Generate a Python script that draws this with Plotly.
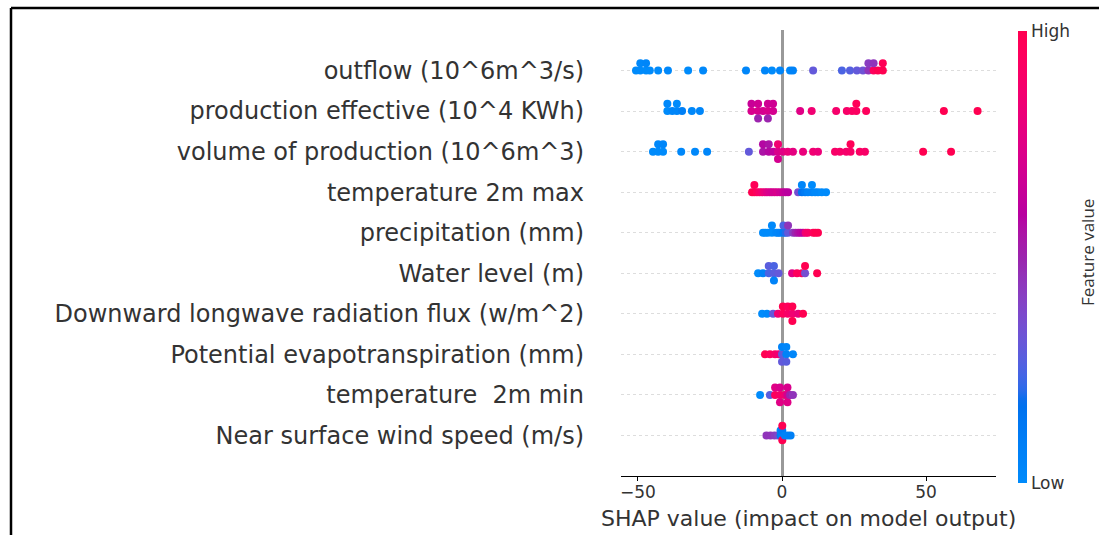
import numpy as np
import plotly.graph_objects as go

# ---- feature names, top to bottom ----
features = [
    "outflow (10^6m^3/s)",
    "production effective (10^4 KWh)",
    "volume of production (10^6m^3)",
    "temperature 2m max",
    "precipitation (mm)",
    "Water level (m)",
    "Downward longwave radiation flux (w/m^2)",
    "Potential evapotranspiration (mm)",
    "temperature\u00a0 2m min",
    "Near surface wind speed (m/s)",
]

# ---- SHAP values and normalised feature values (0 = low, 1 = high) ----
outflow_shap = [-50.7, -49.2, -49.2, -47.2, -47.2, -45.9, -43.0, -39.6, -32.6, -27.4,
                -12.5, -5.9, -3.5, -0.7, 2.8, 3.8, 10.8, 20.8, 23.6, 26.0, 28.1,
                30.0, 30.0, 31.8, 31.8, 33.3, 35.0, 35.0]
outflow_feat = [0.0, 0.0, 0.02, 0.0, 0.03, 0.0, 0.0, 0.02, 0.0, 0.02,
                0.03, 0.03, 0.0, 0.04, 0.02, 0.05, 0.3, 0.25, 0.27, 0.3, 0.33,
                0.45, 0.42, 0.95, 0.45, 1.0, 1.0, 0.98]

prod_eff_shap = [-39.8, -39.8, -38.1, -36.5, -36.5, -34.7, -31.3, -28.5,
                 -10.6, -10.6, -8.3, -8.3, -8.3, -6.6, -4.9, -4.9, -4.9, -3.1, -3.1,
                 6.3, 10.3, 18.8, 22.5, 24.3, 25.8, 25.8, 29.2, 56.2, 67.9]
prod_eff_feat = [0.0, 0.02, 0.03, 0.03, 0.0, 0.08, 0.02, 0.03,
                 0.72, 0.65, 0.72, 0.68, 0.5, 0.7, 0.72, 0.68, 0.5, 0.7, 0.68,
                 0.75, 0.85, 0.88, 0.9, 0.92, 0.93, 0.97, 0.95, 1.0, 1.0]

vol_prod_shap = [-44.8, -43.0, -43.0, -41.3, -41.3, -35.0, -30.2, -26.0, -11.5,
                 -6.6, -6.6, -4.6, -4.6, -3.0, -1.4, -1.4, -1.4, 0.3,
                 2.0, 3.8, 7.3, 10.8, 12.5, 18.4, 20.1, 22.3, 23.8, 23.8, 27.0, 28.8,
                 49.0, 58.7]
vol_prod_feat = [0.0, 0.0, 0.02, 0.0, 0.03, 0.02, 0.02, 0.03, 0.3,
                 0.55, 0.58, 0.58, 0.55, 0.62, 0.72, 0.85, 0.7, 0.75,
                 0.8, 0.78, 0.8, 0.85, 0.82, 0.9, 0.9, 0.88, 0.9, 0.97, 0.92, 0.9,
                 1.0, 1.0]

tmax_shap = [-10.4, -9.6, -9.6, -8.7, -7.8, -6.9, -6.0, -5.2, -4.3, -3.5, -2.6, -1.7,
             -0.7, 0.3, 1.2, 2.1, 5.6, 6.9, 6.9, 8.0, 9.0, 10.4, 10.4, 11.5, 12.5,
             13.8, 15.3]
tmax_feat = [1.0, 1.0, 0.98, 0.95, 0.9, 0.85, 0.8, 0.75, 0.72, 0.7, 0.7, 0.72,
             0.68, 0.65, 0.62, 0.6, 0.35, 0.15, 0.03, 0.1, 0.05, 0.05, 0.0, 0.02, 0.02,
             0.0, 0.0]

precip_shap = [-6.6, -5.8, -4.9, -3.5, -3.5, -2.0, -1.3, -0.6, 0.5, 0.5, 1.3, 2.1, 2.1,
               3.8, 4.7, 5.6, 6.4, 7.3, 8.2, 9.0, 10.8, 11.6, 12.5]
precip_feat = [0.0, 0.0, 0.0, 0.0, 0.02, 0.03, 0.03, 0.05, 0.1, 0.25, 0.2, 0.3, 0.45,
               0.42, 0.5, 0.55, 0.58, 0.6, 0.85, 0.9, 0.95, 1.0, 1.0]

water_shap = [-8.3, -6.6, -4.6, -4.6, -2.8, -2.8, -2.8, -1.2, 3.5, 5.2, 6.9, 8.0, 8.0, 12.2]
water_feat = [0.0, 0.05, 0.25, 0.28, 0.28, 0.25, 0.05, 0.3, 0.75, 0.95, 0.95, 0.35, 1.0, 1.0]

longwave_shap = [-6.9, -5.2, -3.1, -1.4, 0.3, 0.3, 2.0, 2.0, 3.6, 3.6, 3.6, 5.6, 7.3]
longwave_feat = [0.0, 0.02, 0.3, 0.85, 0.95, 1.0, 0.9, 0.95, 0.85, 1.0, 1.0, 0.8, 1.0]

pet_shap = [-5.9, -4.2, -2.4, -1.1, 0.0, 0.0, 0.0, 1.5, 1.5, 1.5, 3.8]
pet_feat = [1.0, 0.95, 0.9, 0.85, 0.3, 0.05, 0.3, 0.05, 0.03, 0.28, 0.03]

tmin_shap = [-7.6, -4.2, -2.4, -2.4, -0.7, -0.7, -0.7, 1.0, 1.9, 1.9, 1.9, 2.8, 3.8]
tmin_feat = [0.0, 0.28, 0.95, 0.75, 0.9, 0.72, 0.75, 0.85, 0.7, 0.72, 0.75, 0.5, 0.45]

wind_shap = [-5.4, -4.0, -2.6, -1.4, -0.5, -0.5, 0.1, 0.1, 0.1, 0.1, 1.0, 2.0, 3.0]
wind_feat = [0.45, 0.45, 0.42, 0.38, 0.1, 0.05, 0.05, 0.1, 1.0, 1.0, 0.05, 0.05, 0.08]

rows_shap = [outflow_shap, prod_eff_shap, vol_prod_shap, tmax_shap, precip_shap,
             water_shap, longwave_shap, pet_shap, tmin_shap, wind_shap]
rows_feat = [outflow_feat, prod_eff_feat, vol_prod_feat, tmax_feat, precip_feat,
             water_feat, longwave_feat, pet_feat, tmin_feat, wind_feat]

x_ticks = [-50, 0, 50]
x_range = [-55.9, 74.3]
x_title = "SHAP value (impact on model output)"
cbar_labels = ["Low", "High"]
cbar_title = "Feature value"


# ---- blue -> red colour map interpolated in LCh space ----
def lch_to_rgb(l, c, h):
    a, b = c * np.cos(h), c * np.sin(h)
    fy = (l + 16) / 116
    fx, fz = fy + a / 500, fy - b / 200

    def finv(t):
        return t ** 3 if t > 6 / 29 else 3 * (6 / 29) ** 2 * (t - 4 / 29)

    X, Y, Z = 0.95047 * finv(fx), finv(fy), 1.08883 * finv(fz)
    lin = np.array([
        3.2406 * X - 1.5372 * Y - 0.4986 * Z,
        -0.9689 * X + 1.8758 * Y + 0.0415 * Z,
        0.0557 * X - 0.2040 * Y + 1.0570 * Z,
    ])
    lin = np.clip(lin, 0, 1)
    srgb = np.where(lin <= 0.0031308, 12.92 * lin, 1.055 * lin ** (1 / 2.4) - 0.055)
    r, g, bb = (np.clip(srgb, 0, 1) * 255).round().astype(int)
    return f"rgb({r},{g},{bb})"


blue_lch = (54.0, 70.0, 4.6588)
red_lch = (54.0, 90.0, 0.35470565 + 2 * np.pi)
l_mid = 40.0
nsteps = 60
l_vals = list(np.linspace(blue_lch[0], l_mid, nsteps // 2)) + list(np.linspace(l_mid, red_lch[0], nsteps // 2))
c_vals = np.linspace(blue_lch[1], red_lch[1], nsteps)
h_vals = np.linspace(blue_lch[2], red_lch[2], nsteps)
colorscale = [[float(p), lch_to_rgb(l, c, h)]
              for p, l, c, h in zip(np.linspace(0, 1, nsteps), l_vals, c_vals, h_vals)]


# ---- beeswarm offsets: stack points that fall in the same bin ----
def swarm_offsets(vals, row_height=0.4, nbins=100):
    vals = np.asarray(vals, dtype=float)
    quant = np.round(nbins * (vals - vals.min()) / (vals.max() - vals.min() + 1e-8))
    order = np.argsort(quant, kind="stable")
    ys = np.zeros(len(vals))
    layer, last = 0, None
    for i in order:
        if quant[i] != last:
            layer = 0
        ys[i] = np.ceil(layer / 2) * ((layer % 2) * 2 - 1)
        layer += 1
        last = quant[i]
    ys *= 0.9 * (row_height / np.max(ys + 1))
    return ys


n_rows = len(features)
xs, ys, cs = [], [], []
for i, (sv, fv) in enumerate(zip(rows_shap, rows_feat)):
    pos = n_rows - 1 - i
    off = swarm_offsets(sv)
    xs.extend(sv)
    ys.extend(pos + off)
    cs.extend(fv)

# ---- figure geometry (pixels) ----
W, H = 1099, 535
ML, MR, MT, MB = 621, 103, 30, 59
PW, PH = W - ML - MR, H - MT - MB


def px_x(x):
    return (x - ML) / PW


def px_y(y):
    return (H - MB - y) / PH


FONT = "DejaVu Sans"
TXT = "#333333"

fig = go.Figure()
fig.add_trace(go.Scatter(
    x=xs, y=ys, mode="markers",
    marker=dict(
        size=8, color=cs, colorscale=colorscale, cmin=0, cmax=1,
        line=dict(width=0), opacity=1,
        showscale=True,
        colorbar=dict(
            thickness=9, thicknessmode="pixels",
            len=452, lenmode="pixels",
            x=px_x(1018), xanchor="left", xpad=0,
            y=px_y(257), yanchor="middle", ypad=0,
            tickvals=[0, 1], ticktext=cbar_labels, ticks="",
            outlinewidth=0,
            tickfont=dict(family=FONT, size=17, color=TXT),
        ),
    ),
    hoverinfo="skip",
))

fig.update_xaxes(
    range=x_range, tickvals=x_ticks, automargin=False,
    showgrid=False, zeroline=True, zerolinecolor="#999999", zerolinewidth=2.5,
    showline=True, linecolor="black", linewidth=1,
    ticks="outside", ticklen=4, tickwidth=1, tickcolor="black",
    ticklabelstandoff=-3,
    tickfont=dict(family=FONT, size=17, color=TXT),
)
fig.update_yaxes(
    range=[-1, n_rows], tickvals=list(range(n_rows)), ticktext=features[::-1],
    automargin=False,
    showgrid=True, gridcolor="#dddddd", gridwidth=1, griddash="dot",
    zeroline=False, showline=False, ticks="", ticklabelstandoff=36,
    tickfont=dict(family=FONT, size=24, color=TXT),
)

# axis title below the ticks
fig.add_annotation(
    text=x_title, xref="paper", yref="paper",
    x=px_x(808), y=px_y(518), showarrow=False,
    xanchor="center", yanchor="middle",
    font=dict(family=FONT, size=22, color=TXT),
)

# outer frame on the left and top edges
frame = dict(type="line", xref="paper", yref="paper", line=dict(color="black", width=2.5))
fig.add_shape(**frame, x0=px_x(11), x1=px_x(11), y0=px_y(H + 5), y1=px_y(8))
fig.add_shape(**frame, x0=px_x(11), x1=px_x(W + 5), y0=px_y(8), y1=px_y(8))

fig.add_annotation(
    text=cbar_title, xref="paper", yref="paper",
    x=px_x(1087), y=px_y(253), textangle=-90, showarrow=False,
    xanchor="center", yanchor="middle",
    font=dict(family="Open Sans", size=17, color=TXT),
)

fig.update_layout(
    width=W, height=H, autosize=False,
    margin=dict(l=ML, r=MR, t=MT, b=MB, pad=0),
    plot_bgcolor="white", paper_bgcolor="white",
    showlegend=False,
)

fig.write_html("out.html")
